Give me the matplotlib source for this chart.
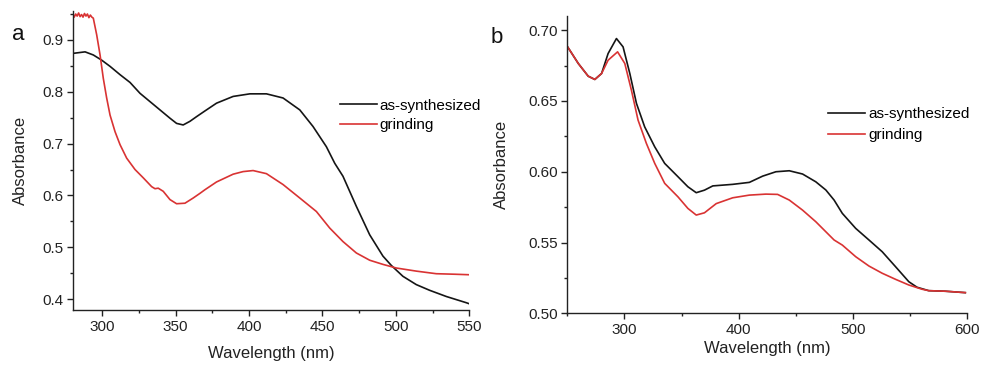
import matplotlib
matplotlib.use("Agg")
import matplotlib.pyplot as plt
from matplotlib.ticker import MultipleLocator, FormatStrFormatter

plt.rcParams['font.family'] = ['Liberation Sans', 'DejaVu Sans']

# ---- Panel a data ----
a_black_x = [280, 288.4, 294, 299.7, 305.4, 312.2, 319, 325.8, 332.6, 339.4, 346.2,
             350.7, 355.2, 359.8, 364.3, 370, 377.9, 389.2, 400.6, 411.9, 423.2,
             434.6, 443.6, 452.7, 458.4, 464, 473.1, 482.2, 491.2, 496.9, 504.8,
             513.9, 523, 534.4, 548, 550]
a_black_y = [0.874, 0.877, 0.871, 0.861, 0.849, 0.833, 0.818, 0.797, 0.781, 0.765,
             0.749, 0.739, 0.736, 0.743, 0.752, 0.763, 0.778, 0.791, 0.796, 0.796,
             0.788, 0.765, 0.733, 0.694, 0.662, 0.637, 0.579, 0.524, 0.483, 0.465,
             0.444, 0.428, 0.417, 0.405, 0.393, 0.391]

a_red_x = [280, 281, 282, 283, 284, 285, 286, 287, 288, 289, 290, 291, 292, 293,
           294, 296.3, 298.6, 300.8, 303.1, 305.4, 308.8, 312.2, 316.7, 322.4, 328,
           333.7, 336, 338.2, 341.6, 346.2, 350.7, 356.4, 362, 366.6, 370, 377.9,
           389.2, 396, 402.8, 411.9, 423.2, 434.6, 445.9, 455, 464, 473.1, 482.2,
           491.2, 500.3, 513.9, 527.5, 540, 550]
a_red_y = [0.951, 0.944, 0.950, 0.946, 0.952, 0.945, 0.949, 0.944, 0.951, 0.946,
           0.950, 0.943, 0.948, 0.944, 0.942, 0.910, 0.871, 0.826, 0.788, 0.755,
           0.723, 0.698, 0.672, 0.650, 0.634, 0.617, 0.613, 0.614, 0.608, 0.592,
           0.584, 0.585, 0.595, 0.604, 0.611, 0.626, 0.641, 0.646, 0.648, 0.642,
           0.621, 0.595, 0.569, 0.537, 0.511, 0.489, 0.475, 0.467, 0.460, 0.454,
           0.449, 0.448, 0.447]

# ---- Panel b data ----
b_black_x = [250.3, 259.6, 268.3, 274.1, 280, 285.7, 293, 298.8, 304.7, 310.5,
             317.7, 326.5, 335.2, 346.8, 355.5, 362.8, 370, 377.3, 394.7, 409.3,
             420.9, 432.5, 444.2, 455.8, 467.4, 476.2, 483.4, 490.6, 502.3, 513.9,
             525.5, 537.2, 548.8, 556, 566.2, 580.8, 598.2]
b_black_y = [0.6882, 0.6765, 0.6675, 0.6652, 0.6694, 0.6835, 0.6941, 0.6882,
             0.6694, 0.6483, 0.6317, 0.6176, 0.6059, 0.5965, 0.5894, 0.5852,
             0.5870, 0.5900, 0.5911, 0.5925, 0.5969, 0.6000, 0.6007, 0.5984,
             0.5929, 0.5871, 0.5800, 0.5706, 0.5600, 0.5518, 0.5435, 0.5329,
             0.5223, 0.5184, 0.5160, 0.5156, 0.5146]

b_red_x = [250.3, 259.6, 268.3, 274.1, 280, 285.7, 294, 300.3, 306.1, 311.9,
           319.2, 326.5, 335.2, 346.8, 355.5, 362.8, 370, 380.3, 394.7, 409.3,
           423.8, 434, 444.2, 455.8, 467.4, 476.2, 483.4, 490.6, 502.3, 513.9,
           525.5, 537.2, 548.8, 560.4, 566.2, 580.8, 598.2]
b_red_y = [0.6882, 0.6765, 0.6675, 0.6652, 0.6694, 0.6788, 0.6847, 0.6765,
           0.6576, 0.6365, 0.6200, 0.6059, 0.5918, 0.5823, 0.5741, 0.5694,
           0.5710, 0.5775, 0.5816, 0.5835, 0.5842, 0.5840, 0.5800, 0.5729,
           0.5647, 0.5576, 0.5518, 0.5482, 0.5400, 0.5334, 0.5283, 0.5240,
           0.5200, 0.5170, 0.5160, 0.5156, 0.5146]

legend_labels = ["as-synthesized", "grinding"]
BLACK = "#151515"
RED = "#d93333"

fig = plt.figure(figsize=(9.83, 3.65), dpi=100)
axa = fig.add_axes([0.074, 0.1507, 0.4034, 0.818])
axb = fig.add_axes([0.5771, 0.1416, 0.407, 0.8145])

for ax in (axa, axb):
    ax.spines['top'].set_visible(False)
    ax.spines['right'].set_visible(False)
    for s in ('left', 'bottom'):
        ax.spines[s].set_linewidth(1.0)
        ax.spines[s].set_color('#222222')
    ax.tick_params(which='major', direction='out', length=4, width=1.0,
                   labelsize=11, colors='#222222', pad=3)
    ax.tick_params(which='minor', direction='out', length=2.5, width=1.0,
                   colors='#222222')

axa.set_xlabel("Wavelength (nm)", fontsize=12, color='#222222', labelpad=8.5)
axa.set_ylabel("Absorbance", fontsize=12, color='#222222', labelpad=10)
axb.set_xlabel("Wavelength (nm)", fontsize=12, color='#222222', labelpad=2.5)
axb.set_ylabel("Absorbance", fontsize=12, color='#222222', labelpad=14)

# Panel a
la1, = axa.plot(a_black_x, a_black_y, color=BLACK, lw=1.2)
la2, = axa.plot(a_red_x, a_red_y, color=RED, lw=1.2)
axa.set_xlim(280, 550)
axa.set_ylim(0.379, 0.955)
axa.xaxis.set_major_locator(MultipleLocator(50))
axa.xaxis.set_minor_locator(MultipleLocator(25))
axa.yaxis.set_major_locator(MultipleLocator(0.1))
axa.yaxis.set_minor_locator(MultipleLocator(0.05))
axa.yaxis.set_major_formatter(FormatStrFormatter('%.1f'))
axa.legend([la1, la2], legend_labels, loc='center left',
           bbox_to_anchor=(0.674, 0.652), frameon=False, fontsize=11,
           handlelength=2.4, handletextpad=0.17, labelspacing=0.34,
           borderaxespad=0, borderpad=0)
fig.text(0.012, 0.890, "a", fontsize=16, color='#111111', va='baseline')

# Panel b
lb1, = axb.plot(b_black_x, b_black_y, color=BLACK, lw=1.2)
lb2, = axb.plot(b_red_x, b_red_y, color=RED, lw=1.2)
axb.set_xlim(250, 600)
axb.set_ylim(0.50, 0.71)
axb.xaxis.set_major_locator(MultipleLocator(100))
axb.xaxis.set_minor_locator(MultipleLocator(50))
axb.yaxis.set_major_locator(MultipleLocator(0.05))
axb.yaxis.set_minor_locator(MultipleLocator(0.025))
axb.yaxis.set_major_formatter(FormatStrFormatter('%.2f'))
axb.legend([lb1, lb2], legend_labels, loc='center left',
           bbox_to_anchor=(0.6516, 0.634), frameon=False, fontsize=11,
           handlelength=2.42, handletextpad=0.2, labelspacing=0.47,
           borderaxespad=0, borderpad=0)
fig.text(0.4995, 0.882, "b", fontsize=16, color='#111111', va='baseline')

fig.savefig("out.png", dpi=100)
